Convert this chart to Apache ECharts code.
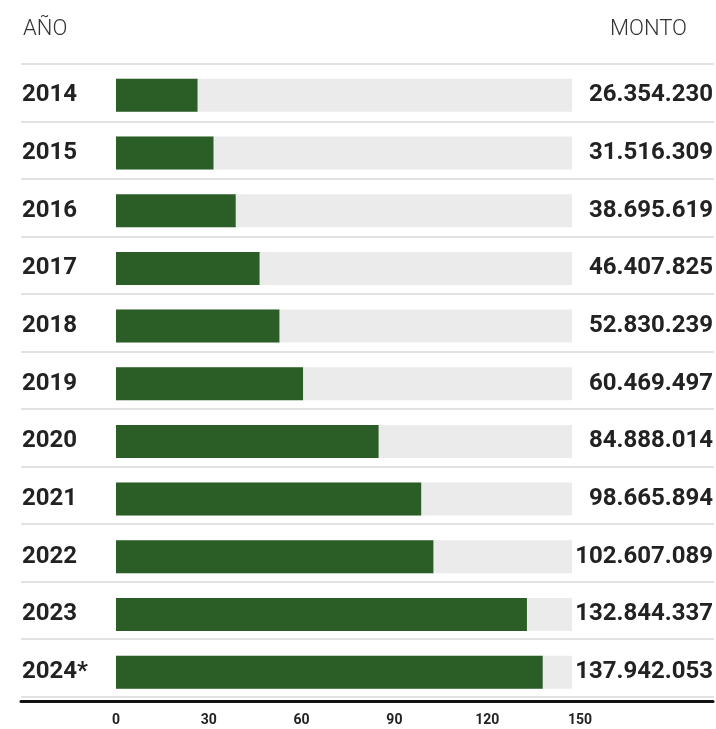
<!DOCTYPE html>
<html>
<head>
<meta charset="utf-8">
<script src="https://cdn.jsdelivr.net/npm/echarts@6/dist/echarts.min.js"></script>
<style>
html,body{margin:0;padding:0;background:#fff;}
#c{width:716px;height:729px;}
</style>
</head>
<body>
<div id="c"></div>
<script>
const years = ['2014','2015','2016','2017','2018','2019','2020','2021','2022','2023','2024*'];
const montos = [26354230, 31516309, 38695619, 46407825, 52830239, 60469497, 84888014, 98665894, 102607089, 132844337, 137942053];
const xTicks = [0, 30, 60, 90, 120, 150];
const trackValue = 147.4; // gray track length (axis units, millions)

const fmt = n => String(n).replace(/\B(?=(\d{3})+(?!\d))/g, '.');
const montosM = montos.map(v => v / 1e6);
const montoLabels = montos.map(fmt);
const trackData = years.map(() => trackValue);

const FONT = 'Roboto';
const labelStyle = {fontFamily: FONT, fontSize: 24, fontWeight: 'bold', color: '#222', padding: [0, 0, 5, 0]};
const hidden = {axisLine: {show: false}, axisTick: {show: false}, axisLabel: {show: false}, splitLine: {show: false}};
const chart = echarts.init(document.getElementById('c'), null, {renderer: 'canvas'});
chart.setOption({
  animation: false,
  textStyle: {fontFamily: FONT},
  title: [
    {text: 'AÑO', left: 18, top: 13, textStyle: {fontFamily: FONT, fontSize: 22, fontWeight: 300, color: '#333'}},
    {text: 'MONTO', right: 24, top: 13, textStyle: {fontFamily: FONT, fontSize: 22, fontWeight: 300, color: '#333'}}
  ],
  grid: [
    {left: 116, right: 136, top: 66.5, height: 634.5},
    {left: 21, right: 2, top: 64, height: 632.5},
    {left: 21, right: 2, top: 66.5, height: 634.5}
  ],
  xAxis: [
    {gridIndex: 0, type: 'value', min: xTicks[0], max: xTicks[xTicks.length - 1], interval: xTicks[1] - xTicks[0],
      axisLine: {show: false}, axisTick: {show: false}, splitLine: {show: false},
      axisLabel: {fontFamily: FONT, fontSize: 14, fontWeight: 'bold', color: '#222', margin: 12}},
    Object.assign({gridIndex: 1, type: 'value', min: 0, max: 1}, hidden),
    {gridIndex: 2, type: 'value', min: 0, max: 1,
      axisLine: {show: true, lineStyle: {color: '#111', width: 3}}, axisTick: {show: false},
      splitLine: {show: false}, axisLabel: {show: false}}
  ],
  yAxis: [
    Object.assign({gridIndex: 0, type: 'category', inverse: true, data: years}, hidden),
    {gridIndex: 1, type: 'category', inverse: true, data: years,
      axisLine: {show: false}, axisTick: {show: false}, axisLabel: {show: false},
      splitLine: {show: true, lineStyle: {color: '#e2e2e2', width: 2}}},
    {gridIndex: 2, type: 'category', inverse: true, data: years, position: 'left',
      axisLine: {show: false}, axisTick: {show: false}, splitLine: {show: false},
      axisLabel: Object.assign({inside: true, margin: 1, align: 'left'}, labelStyle)},
    {gridIndex: 2, type: 'category', inverse: true, data: montoLabels, position: 'right',
      axisLine: {show: false}, axisTick: {show: false}, splitLine: {show: false},
      axisLabel: Object.assign({inside: true, margin: 0, align: 'right'}, labelStyle)}
  ],
  series: [
    {type: 'bar', xAxisIndex: 0, yAxisIndex: 0, data: trackData, barWidth: 33, silent: true,
      itemStyle: {color: '#ebebeb'}, z: 1},
    {type: 'bar', xAxisIndex: 0, yAxisIndex: 0, data: montosM, barWidth: 33, barGap: '-100%',
      itemStyle: {color: '#2b5e27'}, z: 2}
  ]
});
</script>
</body>
</html>
